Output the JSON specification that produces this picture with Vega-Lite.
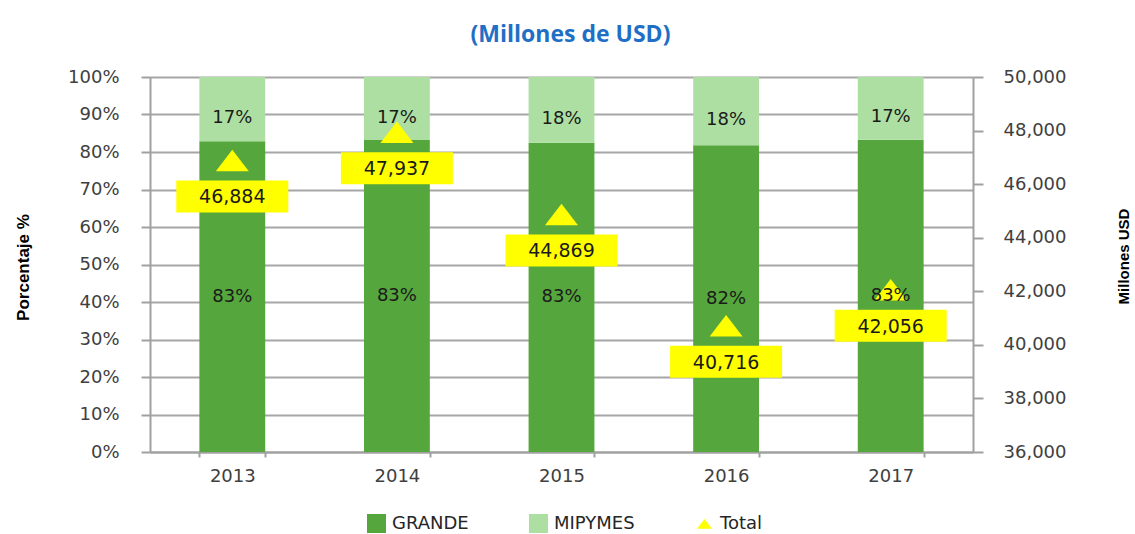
{
  "$schema": "https://vega.github.io/schema/vega-lite/v6.json",
  "width": 823,
  "height": 375,
  "autosize": {"type": "none"},
  "padding": {"left": 150, "top": 77, "right": 162, "bottom": 82},
  "background": "white",
  "title": {"text": "(Millones de USD)", "font": "Open Sans", "fontSize": 23, "fontWeight": "bold", "color": "#1f6fc6", "anchor": "middle", "dx": 9, "offset": 21},
  "data": {
    "values": [
      {"year": "2013", "GRANDE": 0.829, "MIPYMES": 0.171, "Total": 46884},
      {"year": "2014", "GRANDE": 0.832, "MIPYMES": 0.168, "Total": 47937},
      {"year": "2015", "GRANDE": 0.825, "MIPYMES": 0.175, "Total": 44869},
      {"year": "2016", "GRANDE": 0.818, "MIPYMES": 0.182, "Total": 40716},
      {"year": "2017", "GRANDE": 0.833, "MIPYMES": 0.167, "Total": 42056}
    ]
  },
  "encoding": {
    "x": {
      "field": "year", "type": "ordinal",
      "scale": {"paddingInner": 0.6, "paddingOuter": 0.3},
      "axis": {"title": null, "labelAngle": 0, "tickBand": "extent", "ticks": true, "tickSize": 5, "labelPadding": 10, "grid": false}
    }
  },
  "layer": [
    {
      "transform": [{"fold": ["GRANDE", "MIPYMES"], "as": ["serie", "pct"]}],
      "mark": {"type": "bar"},
      "encoding": {
        "y": {
          "field": "pct", "type": "quantitative", "stack": "zero",
          "scale": {"domain": [0, 1], "nice": false},
          "axis": {"orient": "left", "values": [0, 0.1, 0.2, 0.3, 0.4, 0.5, 0.6, 0.7, 0.8, 0.9, 1], "format": ".0%", "grid": true, "gridColor": "#a6a6a6", "gridWidth": 2, "tickSize": 9, "labelPadding": 22, "title": "Porcentaje %", "titleFont": "Liberation Sans", "titleFontWeight": "bold", "titleFontSize": 17, "titleColor": "#000000", "titleX": -118, "titleY": 190, "titleAngle": 270}
        },
        "order": {"field": "serie", "sort": "ascending"},
        "color": {
          "field": "serie", "type": "nominal",
          "scale": {"domain": ["GRANDE", "MIPYMES", "Total"], "range": ["#55a63c", "#addfa2", "#ffff00"]},
          "legend": {
            "orient": "none", "legendX": 217, "legendY": 437, "direction": "horizontal", "title": null,
            "labelFontSize": 18, "labelColor": "#262626", "symbolSize": 361, "symbolStrokeWidth": 0, "columnPadding": 60, "labelOffset": 6,
            "encode": {"symbols": {"update": {
              "shape": {"signal": "datum.value === 'Total' ? 'M0,-0.65L1,0.65L-1,0.65Z' : 'square'"},
              "size": {"signal": "datum.value === 'Total' ? 225 : 361"}
            }}}
          }
        }
      }
    },
    {
      "mark": {"type": "point", "filled": true, "opacity": 1, "shape": "M0,-0.65L1,0.65L-1,0.65Z", "size": 1089, "color": "#ffff00", "strokeWidth": 0},
      "encoding": {
        "y": {
          "field": "Total", "type": "quantitative",
          "scale": {"domain": [36000, 50000], "nice": false, "zero": false},
          "axis": {"orient": "right", "values": [36000, 38000, 40000, 42000, 44000, 46000, 48000, 50000], "format": ",.0f", "grid": false, "tickSize": 10, "labelPadding": 20, "title": "Millones USD", "titleFont": "Liberation Sans", "titleFontWeight": "bold", "titleFontSize": 15, "titleColor": "#000000", "titleX": 158, "titleY": 179, "titleAngle": 270}
        }
      }
    },
    {
      "mark": {"type": "point", "filled": true, "opacity": 1, "shape": "M-1,-0.285L1,-0.285L1,0.285L-1,0.285Z", "size": 12544, "color": "#ffff00", "strokeWidth": 0, "yOffset": 36},
      "encoding": {
        "y": {"field": "Total", "type": "quantitative", "scale": {"domain": [36000, 50000], "nice": false, "zero": false}, "axis": null}
      }
    },
    {
      "mark": {"type": "text", "fontSize": 18, "color": "#1a1a1a", "baseline": "middle"},
      "encoding": {
        "y": {"field": "GRANDE", "type": "quantitative", "scale": {"domain": [0, 2], "nice": false}, "axis": null},
        "text": {"field": "GRANDE", "type": "quantitative", "format": ".0%"}
      }
    },
    {
      "mark": {"type": "text", "fontSize": 18, "color": "#1a1a1a", "baseline": "middle", "dy": 9},
      "encoding": {
        "y": {"field": "MIPYMES", "type": "quantitative", "scale": {"domain": [0, 2], "nice": false, "reverse": true}, "axis": null},
        "text": {"field": "MIPYMES", "type": "quantitative", "format": ".0%"}
      }
    },
    {
      "mark": {"type": "text", "fontSize": 19, "color": "#1a1a1a", "baseline": "middle", "dy": 37},
      "encoding": {
        "y": {"field": "Total", "type": "quantitative", "scale": {"domain": [36000, 50000], "nice": false, "zero": false}, "axis": null},
        "text": {"field": "Total", "type": "quantitative", "format": ",.0f"}
      }
    }
  ],
  "resolve": {"scale": {"y": "independent"}},
  "config": {
    "font": "DejaVu Sans",
    "view": {"stroke": null},
    "axis": {
      "labelFont": "DejaVu Sans", "labelFontSize": 18, "labelColor": "#404040",
      "domainColor": "#a0a0a0", "domainWidth": 2, "tickColor": "#a0a0a0", "tickWidth": 2
    },
    "legend": {"labelFont": "DejaVu Sans"}
  }
}
